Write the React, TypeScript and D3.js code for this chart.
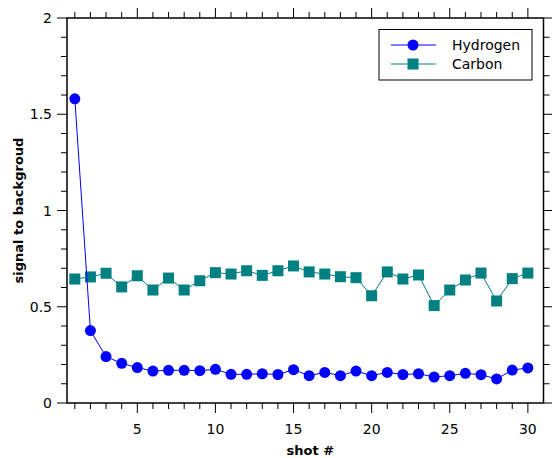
import React from 'react';
import * as d3 from 'd3';

const shots = d3.range(1, 31);
const hydrogen = [1.58, 0.376, 0.241, 0.206, 0.184, 0.166, 0.170, 0.170, 0.168, 0.175,
  0.149, 0.149, 0.152, 0.148, 0.173, 0.142, 0.159, 0.142, 0.166, 0.142,
  0.159, 0.148, 0.152, 0.135, 0.142, 0.154, 0.147, 0.125, 0.171, 0.182];
const carbon = [0.644, 0.655, 0.674, 0.603, 0.661, 0.587, 0.649, 0.587, 0.635, 0.677,
  0.670, 0.687, 0.663, 0.687, 0.712, 0.681, 0.670, 0.656, 0.651, 0.557,
  0.681, 0.644, 0.665, 0.506, 0.587, 0.639, 0.675, 0.530, 0.646, 0.675];
const xMajor = [5, 10, 15, 20, 25, 30];
const yMajor = [0, 0.5, 1, 1.5, 2];

const W = 552, H = 458;
const m = { left: 67, right: 543.5, top: 18, bottom: 403 };
const font = 'DejaVu Sans, sans-serif';

const App = () => {
  const x = d3.scaleLinear().domain([0.5, 31]).range([m.left, m.right]);
  const y = d3.scaleLinear().domain([0, 2]).range([m.bottom, m.top]);
  const xMinor = d3.range(1, 31).filter(v => v % 5 !== 0);
  const yMinor = d3.range(0, 21).map(v => v / 10).filter(v => Math.round(v * 10) % 5 !== 0);

  const line = d3.line<number>().x((_, i) => x(shots[i])).y(d => y(d));

  const H_COL = '#0000ff';
  const C_COL = '#008080';

  return (
    <svg width={W} height={H} style={{ position: 'absolute', left: 0, top: 0 }}>
      <rect x={m.left} y={m.top} width={m.right - m.left} height={m.bottom - m.top} fill="none" stroke="#000" strokeWidth={1.5} />
      {xMinor.map(v => (
        <g key={'xm' + v} stroke="#000">
          <line x1={x(v)} x2={x(v)} y1={m.bottom} y2={m.bottom + 6} />
          <line x1={x(v)} x2={x(v)} y1={m.top} y2={m.top - 6} />
        </g>
      ))}
      {xMajor.map(v => (
        <g key={'xM' + v}>
          <line x1={x(v)} x2={x(v)} y1={m.bottom} y2={m.bottom + 10} stroke="#000" />
          <line x1={x(v)} x2={x(v)} y1={m.top} y2={m.top - 10} stroke="#000" />
          <text x={x(v)} y={434} textAnchor="middle" fontFamily={font} fontSize={14}>{v}</text>
        </g>
      ))}
      {yMinor.map(v => (
        <g key={'ym' + v} stroke="#000">
          <line x1={m.left} x2={m.left - 6} y1={y(v)} y2={y(v)} />
          <line x1={m.right} x2={m.right + 6} y1={y(v)} y2={y(v)} />
        </g>
      ))}
      {yMajor.map(v => (
        <g key={'yM' + v}>
          <line x1={m.left} x2={m.left - 10} y1={y(v)} y2={y(v)} stroke="#000" />
          <line x1={m.right} x2={m.right + 10} y1={y(v)} y2={y(v)} stroke="#000" />
          <text x={52} y={y(v) + 5} textAnchor="end" fontFamily={font} fontSize={14}>{v}</text>
        </g>
      ))}
      <path d={line(carbon) || ''} fill="none" stroke={C_COL} strokeWidth={1} />
      {carbon.map((d, i) => (
        <rect key={'c' + i} x={x(shots[i]) - 5.5} y={y(d) - 5.5} width={11} height={11} fill={C_COL} />
      ))}
      <path d={line(hydrogen) || ''} fill="none" stroke={H_COL} strokeWidth={1} />
      {hydrogen.map((d, i) => (
        <circle key={'h' + i} cx={x(shots[i])} cy={y(d)} r={5.5} fill={H_COL} />
      ))}
      <text x={(m.left + m.right) / 2 + 5} y={455} textAnchor="middle" fontFamily={font} fontSize={13} fontWeight="bold">shot #</text>
      <text transform={`translate(23,${(m.top + m.bottom) / 2}) rotate(-90)`} textAnchor="middle" fontFamily={font} fontSize={13} fontWeight="bold">signal to backgroud</text>
      <g>
        <rect x={379} y={29.5} width={153} height={50.5} fill="#fff" stroke="#000" strokeWidth={1} />
        <line x1={391} x2={436} y1={45} y2={45} stroke={H_COL} />
        <circle cx={413} cy={45} r={5.5} fill={H_COL} />
        <text x={452} y={50} fontFamily={font} fontSize={14}>Hydrogen</text>
        <line x1={391} x2={436} y1={64} y2={64} stroke={C_COL} />
        <rect x={407.5} y={58.5} width={11} height={11} fill={C_COL} />
        <text x={452} y={69} fontFamily={font} fontSize={14}>Carbon</text>
      </g>
    </svg>
  );
};

export default App;
